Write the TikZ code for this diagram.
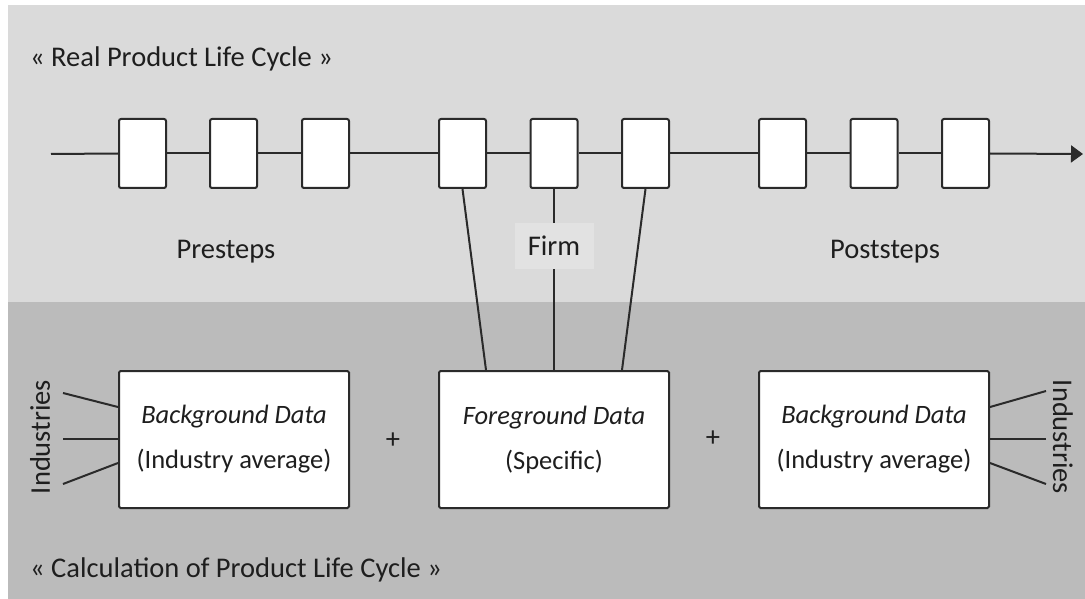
\documentclass[tikz,border=0pt]{standalone}
\usepackage{fontspec}
\setmainfont{Carlito}
\usetikzlibrary{arrows.meta,calc}
\definecolor{lightbg}{HTML}{DADADA}
\definecolor{darkbg}{HTML}{BBBBBB}
\definecolor{firmbg}{HTML}{E2E2E2}
\definecolor{ink}{HTML}{1E1E1E}
\definecolor{linec}{HTML}{2A2A2A}
\tikzset{
  stepbox/.style={draw=linec, line width=2pt, fill=white, rounded corners=2pt,
    minimum width=47pt, minimum height=69pt, inner sep=0pt},
  databox/.style={draw=linec, line width=2pt, fill=white, rounded corners=1.5pt,
    minimum width=230pt, minimum height=137pt, inner sep=0pt, align=center,
    font=\fontsize{26.5}{44}\selectfont, text=ink},
  lbl/.style={text=ink, font=\fontsize{28.5}{32}\selectfont, inner sep=0pt},
  conn/.style={draw=linec, line width=2pt},
}
\begin{document}
\begin{tikzpicture}[x=1pt,y=-1pt]
\useasboundingbox (0,0) rectangle (1085,599);
\fill[white] (0,0) rectangle (1085,599);
\fill[lightbg] (8,5) rectangle (1085,302);
\fill[darkbg] (8,302) rectangle (1085,599);

\node[lbl, anchor=west] (title1) at (30,59) {« Real Product Life Cycle »};
\node[lbl, anchor=west] (title2) at (30,570) {« Calculation of Product Life Cycle »};

% timeline
\coordinate (start) at (51,154);
\coordinate (end) at (1083,154);
\node[stepbox] (b1) at (142.5,153.5) {};
\node[stepbox] (b2) at (233.5,153.5) {};
\node[stepbox] (b3) at (325.5,153.5) {};
\node[stepbox] (b4) at (462.5,153.5) {};
\node[stepbox] (b5) at (554,153.5) {};
\node[stepbox] (b6) at (645.5,153.5) {};
\node[stepbox] (b7) at (782.5,153.5) {};
\node[stepbox] (b8) at (874,153.5) {};
\node[stepbox] (b9) at (965.5,153.5) {};
\draw[conn] (start) -- (b1.west);
\foreach \a/\b in {b1/b2,b2/b3,b3/b4,b4/b5,b5/b6,b6/b7,b7/b8,b8/b9}
  \draw[conn] (\a.east) -- (\b.west);
\draw[conn, -{Triangle[length=12pt,width=17pt]}] (b9.east) -- (end);

\node[lbl] (pre) at (226,252) {Presteps};
\node[lbl] (post) at (885,252) {Poststeps};
\node[lbl, fill=firmbg, minimum width=79pt, minimum height=46pt] (firm) at (554,246) {Firm};

% data boxes
\node[databox] (bgl) at (234,439.5) {\textit{Background Data}\\[1pt](Industry average)};
\node[databox] (fg) at (554,439.5) {\textit{Foreground Data}\\[1pt](Specific)};
\node[databox] (bgr) at (874,439.5) {\textit{Background Data}\\[1pt](Industry average)};
\node[lbl] (plus1) at (393,441) {+};
\node[lbl] (plus2) at (713,439) {+};

% firm connectors
\draw[conn] (b4.south) -- ([xshift=-68pt]fg.north);
\draw[conn] (b5.south) -- (firm.north);
\draw[conn] (firm.south) -- (fg.north);
\draw[conn] (b6.south) -- ([xshift=68pt]fg.north);

% industries
\node[lbl, rotate=90] (indl) at (40,437) {Industries};
\node[lbl, rotate=-90] (indr) at (1063,437) {Industries};
\coordinate (l1) at (63,393);
\coordinate (l2) at (63,439);
\coordinate (l3) at (63,484);
\coordinate (r1) at (1046,391);
\coordinate (r2) at (1046,439);
\coordinate (r3) at (1046,484);
\draw[conn] (l1) -- (bgl.west |- 0,407);
\draw[conn] (l2) -- (bgl.west |- 0,439);
\draw[conn] (l3) -- (bgl.west |- 0,463);
\draw[conn] (r1) -- (bgr.east |- 0,407);
\draw[conn] (r2) -- (bgr.east |- 0,439);
\draw[conn] (r3) -- (bgr.east |- 0,463);
\end{tikzpicture}
\end{document}
